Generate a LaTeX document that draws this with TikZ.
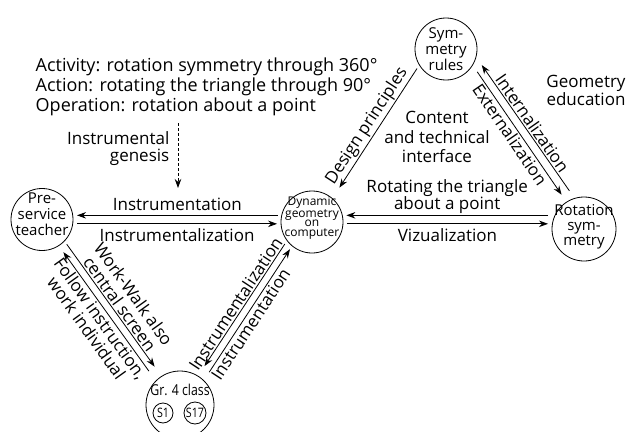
\documentclass[tikz,border=0pt]{standalone}
\usepackage{fontspec}
\setmainfont{Open Sans}
\newfontfamily\narrowfont[FakeStretch=0.82]{Open Sans}
\usetikzlibrary{arrows.meta}

\begin{document}
\begin{tikzpicture}[x=1pt,y=-1pt,
  circ/.style={draw, circle, minimum size=#1, inner sep=0pt, outer sep=4pt, line width=0.8pt},
  intext/.style={font=\fontsize{15}{16}\selectfont, align=center, inner sep=0pt},
  arr/.style={-{Stealth[length=9pt,width=6.5pt]}, line width=0.8pt},
  lbl/.style={font=\fontsize{17}{17}\selectfont, align=center, inner sep=1.5pt}]
  \useasboundingbox (0,0) rectangle (629,431);

  % the five corners
  \node[circ=62pt, label={[intext, yshift=5pt]center:Pre-\\service\\teacher}] (teacher) at (42,219.5) {};
  \node[circ=62pt, label={[intext, font=\fontsize{12}{9.8}\selectfont, yshift=4pt]center:Dynamic\\geometry\\on\\computer}] (dyn) at (312,222) {};
  \node[circ=62pt, label={[intext]center:Sym-\\metry\\rules}] (rules) at (446,49) {};
  \node[circ=64pt, label={[intext, font=\fontsize{15}{15}\selectfont, yshift=2pt]center:Rotation\\sym-\\metry}] (rot) at (584,229) {};
  \node[circ=68pt, label={[intext, font=\narrowfont\fontsize{15}{15}\selectfont, yshift=15pt]center:Gr. 4 class}] (cls) at (180,405) {};
  \node[circ=20pt, outer sep=0pt, font=\narrowfont\fontsize{13}{13}\selectfont] (s1) at (163,413) {S1};
  \node[circ=22pt, outer sep=0pt, font=\narrowfont\fontsize{13}{13}\selectfont] (s17) at (195,413) {S17};

  % free texts
  \node[lbl, anchor=west, align=left, font=\fontsize{18}{20}\selectfont] (acts) at (34,87)
    {Activity: rotation symmetry through 360°\\Action: rotating the triangle through 90°\\Operation: rotation about a point};
  \node[lbl, anchor=east, align=right] (genesis) at (171,149) {Instrumental\\genesis};
  \node[lbl, font=\fontsize{17}{19.5}\selectfont] (content) at (437,137) {Content\\and technical\\interface};
  \node[lbl, font=\fontsize{17}{16.5}\selectfont] (geo) at (586,90) {Geometry\\education};

  \coordinate (gen-top) at (178,123);
  \coordinate (gen-tip) at (178,188);
  \draw[arr, dash pattern=on 3pt off 2pt] (gen-top) -- (gen-tip);

  % horizontal pairs
  \draw[arr] (dyn.169) -- (dyn.169 -| teacher.east) node[lbl, midway, above, yshift=3pt] {Instrumentation};
  \draw[arr] (dyn.183 -| teacher.east) -- (dyn.183) node[lbl, midway, below, yshift=-3pt] {Instrumentalization};
  \draw[arr] (dyn.11 -| rot.west) -- (dyn.11) node[lbl, midway, above] {Rotating the triangle\\about a point};
  \draw[arr] (dyn.-3) -- (dyn.-3 -| rot.west) node[lbl, midway, below, yshift=-3pt] {Vizualization};

  % diagonals
  \draw[arr, shorten >=9pt] (rules.214) -- (dyn.50) node[lbl, midway, sloped, above] {Design principles};
  \draw[arr, shorten <=4pt, shorten >=5pt] (rules.-34) -- (rot.123) node[lbl, pos=0.47, sloped, below] {Externalization};
  \draw[arr, shorten <=5pt, shorten >=5pt] (rot.109) -- (rules.-20) node[lbl, midway, sloped, above] {Internalization};

  \draw[arr, shorten >=8pt] (teacher.-45) -- (cls.123) node[lbl, midway, sloped, above] {Work-Walk also\\central screen};
  \draw[arr, shorten <=8pt, shorten >=4pt] (cls.134) -- (teacher.-57) node[lbl, midway, sloped, below] {Follow instruction,\\work individual};

  \draw[arr, shorten >=8pt] (dyn.219) -- (cls.58) node[lbl, midway, sloped, above] {Instrumentalization};
  \draw[arr, shorten <=6pt] (cls.47) -- (dyn.231) node[lbl, pos=0.45, sloped, below] {Instrumentation};
\end{tikzpicture}
\end{document}
